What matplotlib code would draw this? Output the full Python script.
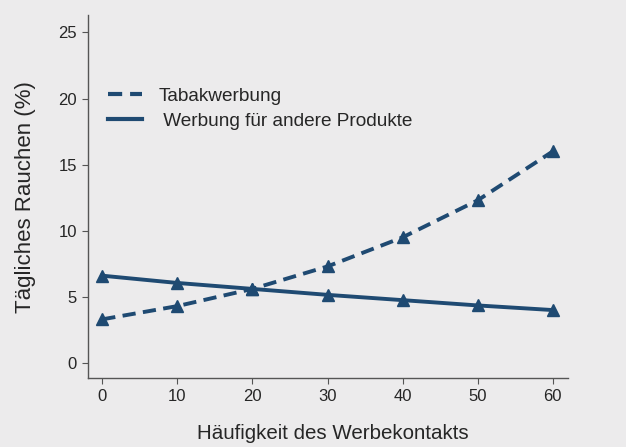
import matplotlib
matplotlib.use("Agg")
import matplotlib.pyplot as plt

x = [0, 10, 20, 30, 40, 50, 60]
tabak = [3.3, 4.3, 5.6, 7.3, 9.5, 12.3, 16.0]
andere = [6.6, 6.05, 5.6, 5.15, 4.75, 4.35, 4.0]
labels = ["Tabakwerbung", " Werbung für andere Produkte"]

plt.rcParams['font.family'] = ['Liberation Sans', 'DejaVu Sans']
bg = '#ecebec'
col = '#1f4a72'
txt = '#262626'

fig = plt.figure(figsize=(6.26, 4.47), dpi=100, facecolor=bg)
ax = fig.add_axes([0.1406, 0.154, 0.907 - 0.1406, 0.966 - 0.154])
ax.set_facecolor(bg)

ax.plot(x, tabak, linestyle=(0, (3.4, 1.9)), color=col, lw=2.8, marker='^', ms=8, label=labels[0])
ax.plot(x, andere, linestyle='-', color=col, lw=2.8, marker='^', ms=8, label=labels[1])

ax.set_xlim(-1.9, 62)
ax.set_ylim(-1.15, 26.3)
ax.set_xticks(x)
ax.set_yticks([0, 5, 10, 15, 20, 25])

for s in ['top', 'right']:
    ax.spines[s].set_visible(False)
for s in ['left', 'bottom']:
    ax.spines[s].set_color('#555555')
    ax.spines[s].set_linewidth(1.0)
ax.tick_params(direction='out', length=4, width=0.8, colors='#555555', labelcolor=txt, labelsize=12, pad=4)

ax.set_xlabel("Häufigkeit des Werbekontakts", fontsize=14.8, color=txt, labelpad=13)
ax.xaxis.set_label_coords(0.51, -0.125)
ax.set_ylabel("Tägliches Rauchen (%)", fontsize=16, color=txt, labelpad=16)

leg = ax.legend(loc='upper left', bbox_to_anchor=(0.006, 0.848), frameon=False,
                fontsize=13.7, handlelength=1.8, handletextpad=0.85, labelspacing=0.42)
for h in leg.legend_handles:
    h.set_marker('')
    h.set_linewidth(3)
for t in leg.get_texts():
    t.set_color(txt)

fig.savefig("out.png", dpi=100, facecolor=bg)
